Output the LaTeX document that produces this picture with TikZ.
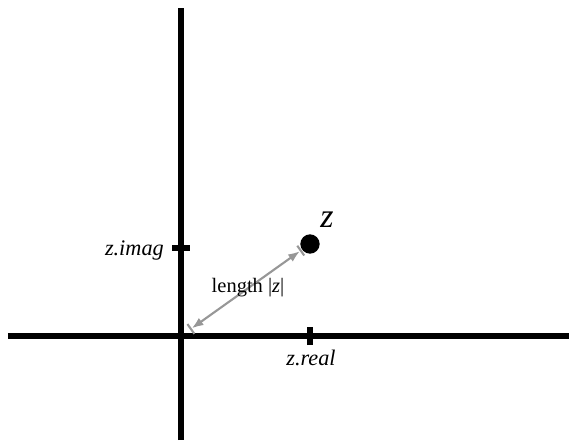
\documentclass[tikz,border=0pt]{standalone}
\usepackage{fontspec}
\setmainfont{Liberation Serif}
\usetikzlibrary{positioning,arrows.meta,calc}
\definecolor{axisink}{HTML}{000000}
\definecolor{lenmuted}{HTML}{979797}
\tikzset{axis/.style={draw=axisink,line width=4.3pt},
  tickmark/.style={draw=axisink,line width=4.3pt},
  lenarrow/.style={draw=lenmuted,line width=1.8pt,|<->|,>={Latex[length=10pt,width=7.5pt]}},
  lbl/.style={font=\fontsize{19}{22}\selectfont\itshape,inner sep=0pt}}

\begin{document}
\begin{tikzpicture}[x=0.03cm,y=0.03cm]
    \useasboundingbox (-181,-106) rectangle (388,336);
    \coordinate (O) at (0,0);
    \coordinate (xl) at (-173,0); \coordinate (xr) at (390,0);
    \coordinate (yb) at (0,-104); \coordinate (yt) at (0,328);
    \draw[axis] (xl) -- (xr);
    \draw[axis] (yb) -- (yt);
    % ticks and labels
    \coordinate (im) at (0,88); \coordinate (re) at (129,0);
    \draw[tickmark] ($(im)+(-9,0)$) -- ($(im)+(9,0)$);
    \draw[tickmark] ($(re)+(0,-9)$) -- ($(re)+(0,9)$);
    \node[lbl,anchor=base east] (imlbl) at (-17,81) {z.imag};
    \node[lbl,anchor=base] (relbl) at (130,-29) {z.real};
    % the point
    \node[circle,fill=black,inner sep=0pt,minimum size=16.5pt] (pt) at (129,92) {};
    \node[font=\fontsize{29}{32}\selectfont\itshape,inner sep=0pt,anchor=base] (zlbl) at (146,109) {z};
    \draw[lenarrow] ($(O)!0.07!(pt)$) -- ($(pt)!0.065!(O)$);
    \node[font=\fontsize{17.5}{20}\selectfont,inner sep=0pt,anchor=base] (lenlbl) at (67,44) {length |\textit{z}|};
  \end{tikzpicture}
\end{document}
